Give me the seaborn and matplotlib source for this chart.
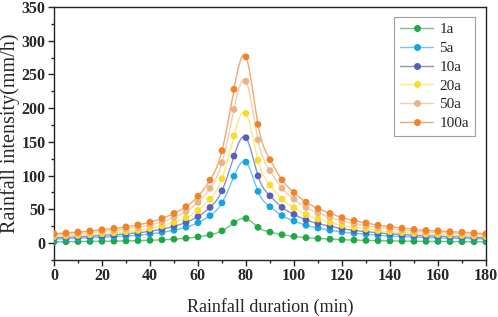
import numpy as np
import pandas as pd
import matplotlib
matplotlib.use("Agg")
import matplotlib.pyplot as plt
from matplotlib.lines import Line2D
from matplotlib.ticker import MultipleLocator
import seaborn as sns

# ---- data ----
duration = list(range(0, 181, 5))
labels = ["1a", "5a", "10a", "20a", "50a", "100a"]
i_1a = [1.8, 2.0, 2.2, 2.4, 2.6, 2.9, 3.2, 3.6, 4.1, 4.8, 5.8, 7.1, 9.2, 12.3, 18.1, 30.2, 36.5,
        23.3, 16.3, 12.4, 9.9, 8.0, 6.8, 5.8, 5.0, 4.4, 3.9, 3.5, 3.2, 2.9, 2.7, 2.5, 2.4, 2.2, 2.1, 2.0, 1.8]
i_5a = [6.0, 6.5, 7.1, 7.8, 8.6, 9.5, 10.4, 11.7, 13.5, 15.9, 19.1, 23.5, 30.2, 40.6, 59.6, 99.2, 120.1,
        76.6, 53.8, 40.7, 32.6, 26.4, 22.3, 19.1, 16.4, 14.5, 13.0, 11.5, 10.5, 9.7, 8.8, 8.2, 7.9, 7.3, 7.0, 6.5, 6.0]
i_10a = [7.8, 8.5, 9.2, 10.2, 11.2, 12.3, 13.6, 15.3, 17.5, 20.7, 24.9, 30.6, 39.3, 52.8, 77.5, 129.0, 156.2,
         99.6, 70.0, 53.0, 42.5, 34.3, 29.0, 24.9, 21.4, 18.8, 16.9, 15.0, 13.7, 12.6, 11.5, 10.6, 10.3, 9.5, 9.2, 8.4, 7.8]
i_20a = [9.6, 10.5, 11.4, 12.5, 13.8, 15.2, 16.7, 18.8, 21.6, 25.4, 30.7, 37.6, 48.4, 65.0, 95.5, 158.9, 192.4,
         122.7, 86.1, 65.2, 52.3, 42.2, 35.7, 30.7, 26.3, 23.2, 20.8, 18.5, 16.9, 15.5, 14.1, 13.1, 12.7, 11.7, 11.3, 10.4, 9.6]
i_50a = [12.0, 13.0, 14.2, 15.6, 17.2, 18.9, 20.9, 23.5, 26.9, 31.7, 38.2, 46.9, 60.3, 81.1, 119.1, 198.1, 239.8,
         152.9, 107.4, 81.3, 65.2, 52.7, 44.5, 38.2, 32.8, 28.9, 25.9, 23.0, 21.0, 19.3, 17.6, 16.3, 15.8, 14.6, 14.1, 12.9, 12.0]
i_100a = [13.8, 15.0, 16.3, 18.0, 19.8, 21.8, 24.0, 27.0, 31.0, 36.5, 44.0, 54.0, 69.4, 93.3, 137.0, 228.0, 276.0,
          176.0, 123.6, 93.6, 75.0, 60.6, 51.2, 44.0, 37.8, 33.3, 29.8, 26.5, 24.2, 22.2, 20.3, 18.8, 18.2, 16.8, 16.2, 14.9, 13.8]
series = [i_1a, i_5a, i_10a, i_20a, i_50a, i_100a]

marker_colors = ["#1fa843", "#12a5e3", "#5562b8", "#f8dc2c", "#e8b586", "#f08228"]
line_colors = ["#6cc784", "#6cc6ee", "#8a93cf", "#fbe97a", "#f1cfae", "#f5a66a"]


def natural_spline(x, y, xf):
    x = np.asarray(x, float); y = np.asarray(y, float)
    n = len(x); h = np.diff(x)
    A = np.zeros((n, n)); r = np.zeros(n)
    A[0, 0] = A[-1, -1] = 1
    for i in range(1, n - 1):
        A[i, i - 1] = h[i - 1]; A[i, i] = 2 * (h[i - 1] + h[i]); A[i, i + 1] = h[i]
        r[i] = 3 * ((y[i + 1] - y[i]) / h[i] - (y[i] - y[i - 1]) / h[i - 1])
    c = np.linalg.solve(A, r)
    b = (y[1:] - y[:-1]) / h - h * (2 * c[:-1] + c[1:]) / 3
    d = (c[1:] - c[:-1]) / (3 * h)
    idx = np.clip(np.searchsorted(x, xf) - 1, 0, n - 2)
    dx = xf - x[idx]
    return y[idx] + b[idx] * dx + c[idx] * dx ** 2 + d[idx] * dx ** 3


sns.set_theme(style="ticks")
plt.rcParams["font.family"] = ["Liberation Serif", "DejaVu Serif"]

fig = plt.figure(figsize=(4.98, 3.17), dpi=100)
ax = fig.add_axes([0.1084, 0.180, 0.8675, 0.798])

xf = np.linspace(0, 180, 721)
handles = []
for lab, vals, mc, lc in zip(labels, series, marker_colors, line_colors):
    yf = natural_spline(duration, vals, xf)
    sns.lineplot(x=xf, y=yf, color=lc, lw=1.0, ax=ax, zorder=2)
    sns.scatterplot(x=duration, y=vals, color=mc, s=24, edgecolor="none", ax=ax, zorder=3)
    handles.append(Line2D([0], [0], color=lc, lw=1.0, marker="o", markersize=4,
                          markerfacecolor=mc, markeredgecolor=mc))

ax.set_xlim(0, 180)
ax.set_ylim(-25, 350)
ax.xaxis.set_major_locator(MultipleLocator(20))
ax.xaxis.set_minor_locator(MultipleLocator(10))
ax.yaxis.set_major_locator(MultipleLocator(50))
ax.yaxis.set_minor_locator(MultipleLocator(25))
ax.tick_params(which="major", direction="out", length=4, width=1, labelsize=11.5, pad=2)
ax.tick_params(which="minor", direction="out", length=2.5, width=1)
for lbl in ax.get_xticklabels() + ax.get_yticklabels():
    lbl.set_fontweight("bold")
for sp in ax.spines.values():
    sp.set_visible(True)
    sp.set_linewidth(1.0)
    sp.set_color("#222222")

ax.set_xlabel("Rainfall duration (min)", fontsize=13, labelpad=10)
ax.set_ylabel("Rainfall intensity(mm/h)", fontsize=14.5, labelpad=1)

leg = ax.legend(handles, labels, loc="upper right", bbox_to_anchor=(0.975, 0.962),
                borderaxespad=0, fontsize=11, handlelength=2.2, handletextpad=0.4,
                labelspacing=0.33, frameon=True, fancybox=False, borderpad=0.4)
leg.get_frame().set_edgecolor("#888888")
leg.get_frame().set_linewidth(0.8)

fig.savefig("out.png", dpi=100)
